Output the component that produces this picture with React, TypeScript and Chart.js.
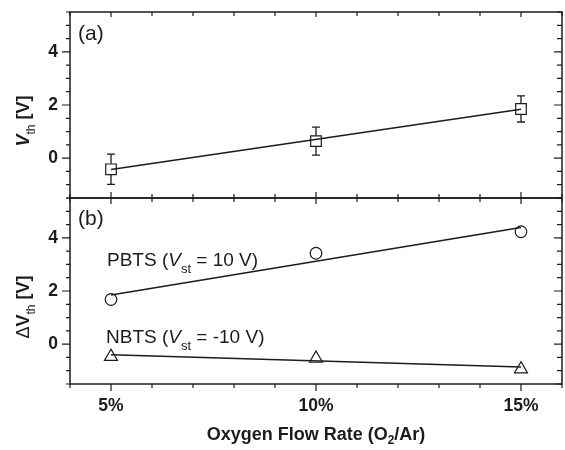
import React, { useEffect, useRef } from 'react';
import { Chart, registerables } from 'chart.js';

Chart.register(...registerables);

// ---- data ----
const oxygenRates = [5, 10, 15];
const fitX = [5, 15];
const xTickValues = [5, 10, 15];
const xTickLabels = ['5%', '10%', '15%'];
const yTickValues = [0, 2, 4];

const vth = [-0.42, 0.64, 1.85];
const vthErr = [0.57, 0.53, 0.49];
const vthFit = [-0.43, 1.84];

const pbts = [1.68, 3.42, 4.23];
const pbtsFit = [1.85, 4.39];

const nbts = [-0.47, -0.54, -0.94];
const nbtsFit = [-0.4, -0.86];

const INK = '#1c1c1c';
const FAMILY = '"Liberation Sans", Arial, Helvetica, sans-serif';

type Seg = { t: string; f: string; dy?: number };

function drawRich(ctx: CanvasRenderingContext2D, segs: Seg[], x: number, y: number, align: 'left' | 'center' = 'left') {
  let total = 0;
  for (const s of segs) {
    ctx.font = s.f;
    total += ctx.measureText(s.t).width;
  }
  let cx = align === 'center' ? x - total / 2 : x;
  ctx.textAlign = 'left';
  ctx.textBaseline = 'alphabetic';
  for (const s of segs) {
    ctx.font = s.f;
    ctx.fillText(s.t, cx, y + (s.dy || 0));
    cx += ctx.measureText(s.t).width;
  }
}

function zeroPadding(s: any) {
  s.paddingTop = 0;
  s.paddingBottom = 0;
  s.paddingLeft = 0;
  s.paddingRight = 0;
}

const framePlugin = {
  id: 'frameTicks',
  afterDraw(chart: any) {
    const ctx: CanvasRenderingContext2D = chart.ctx;
    const x = chart.scales.x;
    const panels = [chart.scales.yA, chart.scales.yB];
    const left = chart.chartArea.left;
    const right = chart.chartArea.right;
    ctx.save();
    ctx.strokeStyle = INK;
    panels.forEach((ys: any, idx: number) => {
      const top = ys.top;
      const bottom = ys.bottom;
      ctx.lineWidth = 1.5;
      ctx.strokeRect(left, top, right - left, bottom - top);
      ctx.lineWidth = 1.2;
      ctx.beginPath();
      for (let v = 4; v <= 16; v += 1) {
        const px = x.getPixelForValue(v);
        const major = xTickValues.includes(v);
        if (idx === 0) {
          const tTop = major ? 5 : 4;
          ctx.moveTo(px, top);
          ctx.lineTo(px, top + tTop);
          const c = major ? 6 : 4;
          ctx.moveTo(px, bottom - c);
          ctx.lineTo(px, bottom + c);
        } else {
          const o = major ? 7 : 4;
          ctx.moveTo(px, bottom);
          ctx.lineTo(px, bottom + o);
        }
      }
      for (let i = 0; i <= 14; i++) {
        const v = -1.5 + i * 0.5;
        const py = ys.getPixelForValue(v);
        const major = yTickValues.includes(v);
        const lo = major ? 8 : 4;
        const ri = major ? 8 : 5;
        ctx.moveTo(left - lo, py);
        ctx.lineTo(left, py);
        ctx.moveTo(right, py);
        ctx.lineTo(right - ri, py);
      }
      ctx.stroke();
    });
    ctx.restore();
  },
};

const errorBarPlugin = {
  id: 'errorBars',
  afterDatasetsDraw(chart: any) {
    const ctx: CanvasRenderingContext2D = chart.ctx;
    const x = chart.scales.x;
    const y = chart.scales.yA;
    ctx.save();
    ctx.strokeStyle = INK;
    ctx.lineWidth = 1.3;
    ctx.beginPath();
    oxygenRates.forEach((r, i) => {
      const px = x.getPixelForValue(r);
      const pHi = y.getPixelForValue(vth[i] + vthErr[i]);
      const pLo = y.getPixelForValue(vth[i] - vthErr[i]);
      const pC = y.getPixelForValue(vth[i]);
      ctx.moveTo(px, pHi);
      ctx.lineTo(px, pC - 5.5);
      ctx.moveTo(px, pC + 5.5);
      ctx.lineTo(px, pLo);
      ctx.moveTo(px - 4, pHi);
      ctx.lineTo(px + 4, pHi);
      ctx.moveTo(px - 4, pLo);
      ctx.lineTo(px + 4, pLo);
    });
    ctx.stroke();
    ctx.restore();
  },
};

const textPlugin = {
  id: 'richText',
  afterDraw(chart: any) {
    const ctx: CanvasRenderingContext2D = chart.ctx;
    const area = chart.chartArea;
    const yA = chart.scales.yA;
    const yB = chart.scales.yB;
    ctx.save();
    ctx.fillStyle = INK;

    const reg = (s: number) => `${s}px ${FAMILY}`;
    const ital = (s: number) => `italic ${s}px ${FAMILY}`;
    const bold = (s: number) => `bold ${s}px ${FAMILY}`;
    const boldItal = (s: number) => `italic bold ${s}px ${FAMILY}`;

    drawRich(ctx, [{ t: '(a)', f: reg(21) }], area.left + 8, yA.top + 28);
    drawRich(ctx, [{ t: '(b)', f: reg(21) }], area.left + 8, yB.top + 27);

    drawRich(ctx, [
      { t: 'PBTS (', f: reg(19) },
      { t: 'V', f: ital(19) },
      { t: 'st', f: reg(13), dy: 7 },
      { t: ' = 10 V)', f: reg(19) },
    ], area.left + 37, 266);
    drawRich(ctx, [
      { t: 'NBTS (', f: reg(19) },
      { t: 'V', f: ital(19) },
      { t: 'st', f: reg(13), dy: 7 },
      { t: ' = -10 V)', f: reg(19) },
    ], area.left + 36, 343);

    const yTitle = (segs: Seg[], cy: number, bx: number) => {
      ctx.save();
      ctx.translate(bx, cy);
      ctx.rotate(-Math.PI / 2);
      drawRich(ctx, segs, 0, 0, 'center');
      ctx.restore();
    };
    yTitle([
      { t: 'V', f: boldItal(18) },
      { t: 'th', f: reg(12), dy: 6 },
      { t: ' [V]', f: bold(18) },
    ], 121, 29);
    yTitle([
      { t: '\u0394', f: reg(18) },
      { t: 'V', f: bold(18) },
      { t: 'th', f: reg(12), dy: 6 },
      { t: ' [V]', f: bold(18) },
    ], 307, 29);

    drawRich(ctx, [
      { t: 'Oxygen Flow Rate (O', f: bold(18) },
      { t: '2', f: bold(12), dy: 4 },
      { t: '/Ar)', f: bold(18) },
    ], (area.left + area.right) / 2, 440, 'center');

    ctx.restore();
  },
};

function yScale(weight: number) {
  return {
    type: 'linear',
    position: 'left',
    stack: 'panels',
    stackWeight: 1,
    weight,
    min: -1.5,
    max: 5.5,
    grid: { display: false, drawTicks: false },
    border: { display: false },
    afterBuildTicks: (s: any) => {
      s.ticks = yTickValues.map((v) => ({ value: v }));
    },
    afterFit: (s: any) => {
      s.width = 70;
      zeroPadding(s);
    },
    ticks: {
      color: INK,
      padding: 12,
      font: { family: FAMILY, size: 17.5, weight: 'bold' },
      callback: (v: number) => String(v),
    },
  };
}

export default function App() {
  const ref = useRef<HTMLCanvasElement | null>(null);
  useEffect(() => {
    document.body.style.margin = '0';
    const canvas = ref.current;
    if (!canvas) return;
    const chart = new Chart(canvas, {
      type: 'scatter',
      data: {
        datasets: [
          {
            label: 'Vth',
            yAxisID: 'yA',
            data: oxygenRates.map((r, i) => ({ x: r, y: vth[i] })),
            showLine: false,
            pointStyle: 'rect',
            pointRadius: 7.5,
            pointBorderWidth: 1.2,
            borderColor: INK,
            backgroundColor: 'rgba(0,0,0,0)',
          },
          {
            label: 'Vth fit',
            yAxisID: 'yA',
            data: fitX.map((r, i) => ({ x: r, y: vthFit[i] })),
            showLine: true,
            pointRadius: 0,
            borderWidth: 1.6,
            borderColor: INK,
          },
          {
            label: 'PBTS',
            yAxisID: 'yB',
            data: oxygenRates.map((r, i) => ({ x: r, y: pbts[i] })),
            showLine: false,
            pointStyle: 'circle',
            pointRadius: 5.8,
            pointBorderWidth: 1.2,
            borderColor: INK,
            backgroundColor: 'rgba(0,0,0,0)',
          },
          {
            label: 'PBTS fit',
            yAxisID: 'yB',
            data: fitX.map((r, i) => ({ x: r, y: pbtsFit[i] })),
            showLine: true,
            pointRadius: 0,
            borderWidth: 1.6,
            borderColor: INK,
          },
          {
            label: 'NBTS',
            yAxisID: 'yB',
            data: oxygenRates.map((r, i) => ({ x: r, y: nbts[i] })),
            showLine: false,
            pointStyle: 'triangle',
            pointRadius: 7.5,
            pointBorderWidth: 1.2,
            borderColor: INK,
            backgroundColor: 'rgba(0,0,0,0)',
          },
          {
            label: 'NBTS fit',
            yAxisID: 'yB',
            data: fitX.map((r, i) => ({ x: r, y: nbtsFit[i] })),
            showLine: true,
            pointRadius: 0,
            borderWidth: 1.6,
            borderColor: INK,
          },
        ],
      },
      options: {
        responsive: false,
        animation: false,
        events: [],
        layout: { autoPadding: false, padding: { top: 12, right: 3, left: 0, bottom: 0 } },
        plugins: { legend: { display: false }, tooltip: { enabled: false } },
        scales: {
          x: {
            type: 'linear',
            position: 'bottom',
            min: 4,
            max: 16,
            grid: { display: false, drawTicks: false },
            border: { display: false },
            afterBuildTicks: (s: any) => {
              s.ticks = xTickValues.map((v) => ({ value: v }));
            },
            afterFit: (s: any) => {
              s.height = 66;
              zeroPadding(s);
            },
            ticks: {
              color: INK,
              padding: 12,
              maxRotation: 0,
              autoSkip: false,
              font: { family: FAMILY, size: 17.5, weight: 'bold' },
              callback: (v: number) => {
                const i = xTickValues.indexOf(v);
                return i >= 0 ? xTickLabels[i] : '';
              },
            },
          },
          yB: yScale(1),
          yA: yScale(2),
        } as any,
      },
      plugins: [errorBarPlugin, framePlugin, textPlugin],
    } as any);
    return () => chart.destroy();
  }, []);
  return <canvas ref={ref} width={565} height={450} style={{ display: 'block' }} />;
}
